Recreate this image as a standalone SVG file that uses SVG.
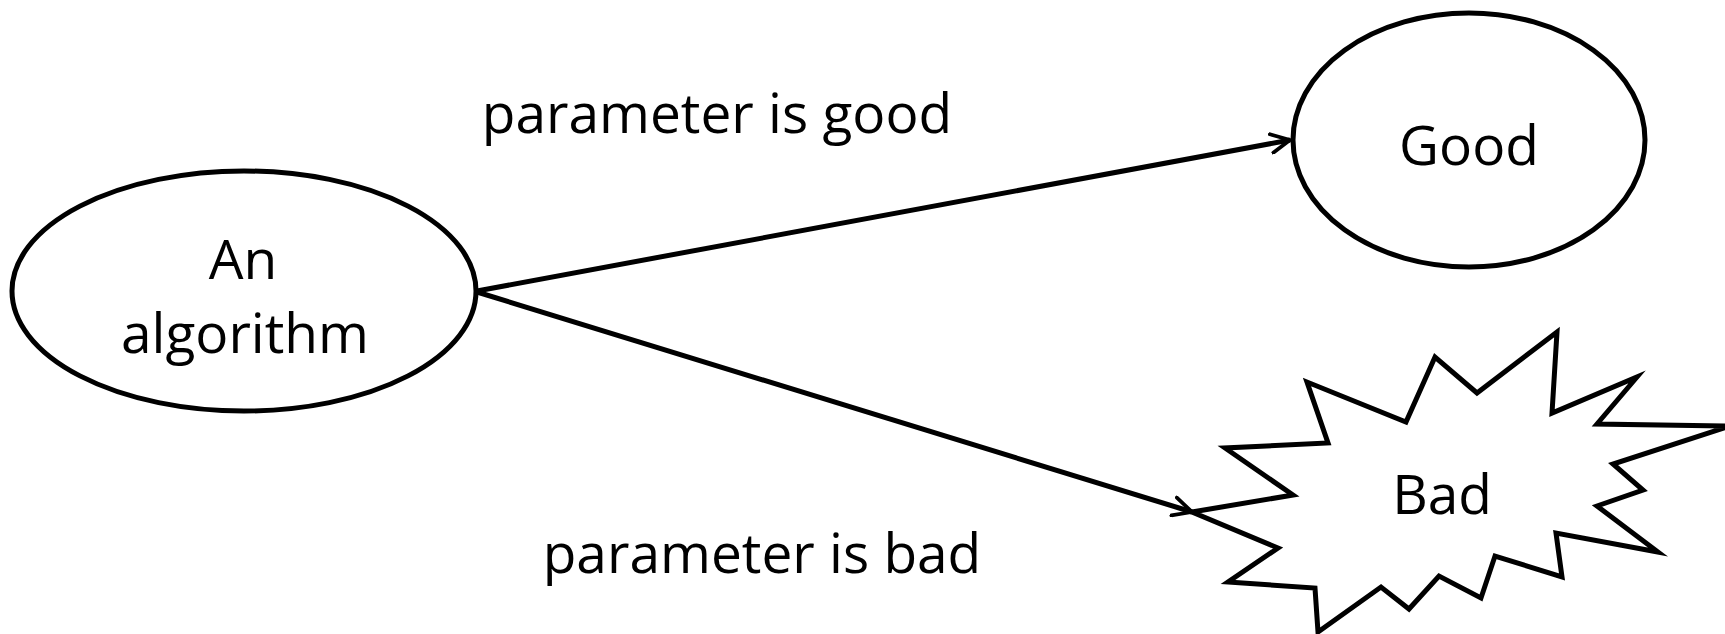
<svg xmlns="http://www.w3.org/2000/svg" width="1725" height="634" viewBox="0 0 1725 634">
<style>
.shape{fill:#fff;stroke:#000;stroke-width:5;stroke-linejoin:miter;stroke-miterlimit:10}
.conn{fill:none;stroke:#000;stroke-width:5}
.lbl{font-family:"Open Sans","Liberation Sans",sans-serif;font-size:55px;fill:#000;text-anchor:middle}
</style>
<defs>
<marker id="arr" viewBox="0 0 12 12" refX="11" refY="6" markerWidth="4.5" markerHeight="4.5" markerUnits="strokeWidth" orient="auto">
<path d="M1,1 L11,6 L1,11" fill="none" stroke="#000" stroke-width="2" stroke-linecap="round" stroke-linejoin="round"/>
</marker>
</defs>
<rect width="1725" height="634" fill="#fff"/>
<g id="algorithm">
<ellipse class="shape" cx="244" cy="291" rx="232" ry="120"/>
<text class="lbl" x="243" y="279">An</text>
<text class="lbl" x="245" y="353">algorithm</text>
</g>
<g id="good">
<ellipse class="shape" cx="1469" cy="140" rx="176" ry="127"/>
<text class="lbl" x="1469" y="165">Good</text>
</g>
<g id="bad">
<polygon class="shape" points="1192,512 1293,495 1225,448 1328,443 1307,382 1406,422 1435,357 1477,393 1557,332 1552,413 1637,377 1597,424 1730,426 1613,464 1643,490 1597,506 1658,552 1556,533 1562,577 1495,556 1481,598 1439,576 1409,609 1381,587 1318,632 1315,588 1228,582 1278,548"/>
<text class="lbl" x="1442" y="514">Bad</text>
</g>
<g id="connectors">
<line class="conn" x1="477" y1="291" x2="1290" y2="140" marker-end="url(#arr)"/>
<line class="conn" x1="477" y1="292" x2="1192" y2="512" marker-end="url(#arr)"/>
<text class="lbl" x="717" y="133">parameter is good</text>
<text class="lbl" x="762" y="573">parameter is bad</text>
</g>
</svg>
